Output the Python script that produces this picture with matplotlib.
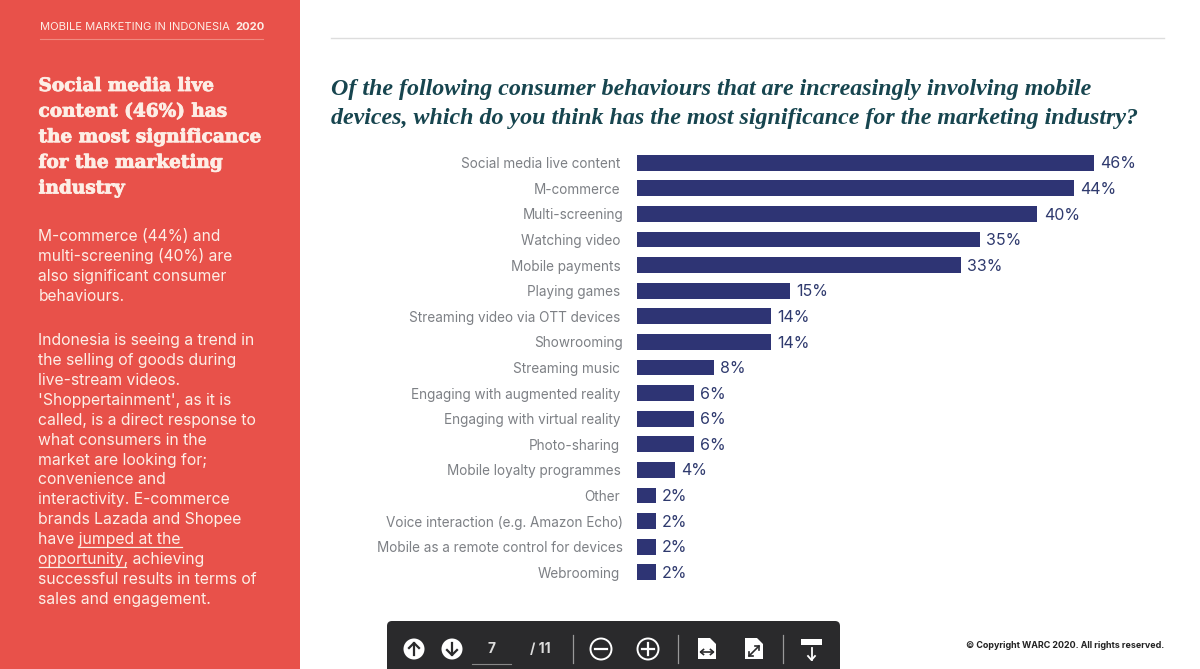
import matplotlib
matplotlib.use('Agg')
import matplotlib.pyplot as plt
import matplotlib.patheffects as pe
from matplotlib.patches import Rectangle, FancyBboxPatch, Circle, Polygon
from matplotlib.transforms import ScaledTranslation

# データ
categories = ['Social media live content', 'M-commerce', 'Multi-screening', 'Watching video',
              'Mobile payments', 'Playing games', 'Streaming video via OTT devices', 'Showrooming',
              'Streaming music', 'Engaging with augmented reality', 'Engaging with virtual reality',
              'Photo-sharing', 'Mobile loyalty programmes', 'Other', 'Voice interaction (e.g. Amazon Echo)',
              'Mobile as a remote control for devices', 'Webrooming']
# 棒の長さは画像から読み取った値
values = [46, 44, 40.3, 34.5, 32.6, 15.4, 13.5, 13.5, 7.75, 5.75, 5.75, 5.75, 3.8, 1.9, 1.9, 1.9, 1.9]
labels = ['46%', '44%', '40%', '35%', '33%', '15%', '14%', '14%', '8%', '6%', '6%', '6%', '4%', '2%', '2%', '2%', '2%']
# 元画像で少し右にずれているラベル
shifted = ['Multi-screening', 'Showrooming', 'Voice interaction (e.g. Amazon Echo)',
           'Mobile as a remote control for devices']

header = 'MOBILE MARKETING IN INDONESIA'
header_year = '2020'
heading_lines = ['Social media live', 'content (46%) has', 'the most significance', 'for the marketing', 'industry']
para1_lines = ['M-commerce (44%) and', 'multi-screening (40%) are', 'also significant consumer', 'behaviours.']
para2_lines = ['Indonesia is seeing a trend in', 'the selling of goods during', 'live-stream videos.',
               "'Shoppertainment', as it is", 'called, is a direct response to', 'what consumers in the',
               'market are looking for;', 'convenience and', 'interactivity. E-commerce',
               'brands Lazada and Shopee', 'have jumped at the', 'opportunity, achieving',
               'successful results in terms of', 'sales and engagement.']
title_lines = ['Of the following consumer behaviours that are increasingly involving mobile',
               'devices, which do you think has the most significance for the marketing industry?']

W, H = 1200, 669
RED = '#e8514a'
CREAM = '#fdeee6'
NAVY = '#2e3474'
TEAL = '#17454f'
GREY = '#7d8085'
BAR_TXT = '#2f3a6e'
DARK = '#2a2a2c'

plt.rcParams['font.family'] = ['Inter', 'DejaVu Sans']

fig = plt.figure(figsize=(12, 6.69), dpi=100, facecolor='white')

# 背景とテキスト用（ピクセル座標）
bg = fig.add_axes([0, 0, 1, 1])
bg.set_xlim(0, W)
bg.set_ylim(H, 0)
bg.axis('off')

bg.add_patch(Rectangle((0, 0), 300, H, color=RED, lw=0))
bg.plot([40, 263], [39, 39], color='#f08a80', lw=0.8)
bg.text(40, 26.5, header, color=CREAM, fontsize=8.05, va='center')
bg.text(235, 26.5, header_year, color=CREAM, fontsize=8.05, va='center', fontweight='bold')

for i, line in enumerate(heading_lines):
    bg.text(38.5, 86 + i * 25.6, line, color=CREAM, fontsize=13.3, va='center',
            family='DejaVu Serif', fontweight='bold',
            path_effects=[pe.withStroke(linewidth=0.6, foreground=CREAM)])
for i, line in enumerate(para1_lines):
    bg.text(38.5, 236.5 + i * 20, line, color=CREAM, fontsize=11.2, va='center')
for i, line in enumerate(para2_lines):
    bg.text(38.5, 341 + i * 19.85, line, color=CREAM, fontsize=11.35, va='center')
# リンクの下線
bg.plot([78, 182], [547, 547], color=CREAM, lw=0.9)
bg.plot([38.5, 126], [567, 567], color=CREAM, lw=0.9)

# タイトル
bg.plot([331, 1164], [38, 38], color='#dddddd', lw=1)
for i, line in enumerate(title_lines):
    bg.text(331, 89 + i * 29.5, line, color=TEAL, fontsize=17.3, va='center',
            family='Liberation Serif', fontstyle='italic', fontweight='bold')

# 棒グラフ
ax = fig.add_axes([637 / W, 1 - 585 / H, 527 / W, 435 / H])
ax.patch.set_alpha(0)
pos = range(len(categories))
bars = ax.barh(pos, values, height=0.62, color=NAVY)
ax.set_xlim(0, 53.04)
ax.set_ylim(16.5, -0.5)
ax.set_yticks(list(pos))
ax.set_yticklabels(categories, color=GREY, fontsize=9.75)
ax.tick_params(axis='y', length=0, pad=12)
ax.xaxis.set_visible(False)
for lab in ax.get_yticklabels():
    if lab.get_text() in shifted:
        lab.set_transform(lab.get_transform() + ScaledTranslation(3 / 100, 0, fig.dpi_scale_trans))
for s in ax.spines.values():
    s.set_visible(False)
for b, lab in zip(bars, labels):
    ax.annotate(lab, (b.get_width(), b.get_y() + b.get_height() / 2), xytext=(4.5, -0.8),
                textcoords='offset points', va='center', color=BAR_TXT, fontsize=11.5)

# ビューアのツールバー
bg.add_patch(FancyBboxPatch((387, 621), 453, 70, boxstyle='round,pad=0,rounding_size=5', lw=0, color=DARK))


def arrow(cx, cy, up):
    s = -1 if up else 1
    bg.plot([cx, cx], [cy - 6 * s, cy + 6 * s], color=DARK, lw=1.6, zorder=4)
    bg.plot([cx - 5, cx, cx + 5], [cy + 1 * s, cy + 6 * s, cy + 1 * s], color=DARK, lw=1.6, zorder=4)


for cx, up in [(414, True), (452, False)]:
    bg.add_patch(Circle((cx, 649), 10.5, color='white', lw=0, zorder=3))
    arrow(cx, 649, up)
bg.text(491, 649, '7', color='#dddddd', fontsize=10, ha='center', va='center', fontweight='bold')
bg.plot([472, 511], [664, 664], color='#888888', lw=0.8)
bg.text(540, 649, '/ 11', color='#dddddd', fontsize=10, ha='center', va='center', fontweight='bold')
for x in [573, 678, 783]:
    bg.plot([x, x], [635, 663], color='#999999', lw=0.9)
for cx in [601, 648]:
    bg.add_patch(Circle((cx, 649), 10.5, fill=False, ec='white', lw=1.4))
    bg.plot([cx - 6, cx + 6], [649, 649], color='white', lw=1.6)
bg.plot([648, 648], [643, 655], color='white', lw=1.6)
# ページアイコン
for x0 in [698, 745]:
    bg.add_patch(Polygon([(x0, 638), (x0 + 12, 638), (x0 + 18, 644), (x0 + 18, 659), (x0, 659)],
                         color='white', lw=0))
bg.plot([701, 713], [652, 652], color=DARK, lw=1.2)
bg.plot([703.5, 700.5, 703.5], [649.5, 652, 654.5], color=DARK, lw=1.2)
bg.plot([710.5, 713.5, 710.5], [649.5, 652, 654.5], color=DARK, lw=1.2)
bg.plot([749, 759], [656, 646], color=DARK, lw=1.2)
bg.plot([749, 749, 753], [652, 656, 656], color=DARK, lw=1.2)
bg.plot([755, 759, 759], [646, 646, 650], color=DARK, lw=1.2)
bg.add_patch(Rectangle((801, 639), 21, 6, color='white', lw=0))
bg.plot([811.5, 811.5], [648, 660], color='white', lw=1.3)
bg.plot([808, 811.5, 815], [656, 660, 656], color='white', lw=1.3)

bg.text(1164, 645, '© Copyright WARC 2020. All rights reserved.', color='#222222', fontsize=6.45,
        ha='right', va='center', fontweight='bold')

fig.savefig('out.png', dpi=100)
